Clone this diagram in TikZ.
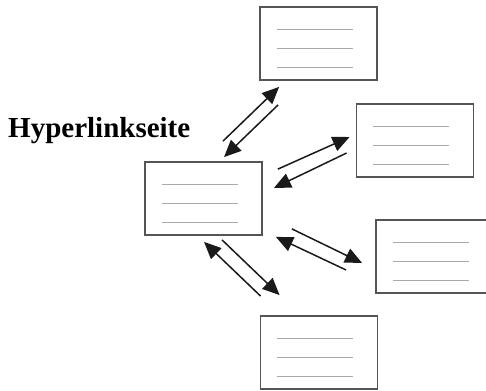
\documentclass[tikz,border=0pt]{standalone}
\usepackage{fontspec}
\setmainfont{Liberation Serif}
\usepackage{tikz}
\usetikzlibrary{arrows.meta}
\definecolor{myframe}{HTML}{555555}
\definecolor{myrule}{HTML}{AAAAAA}
\definecolor{myarrow}{HTML}{1A1A1A}

\begin{document}
\begin{tikzpicture}[x=1pt, y=1pt,
  page/.style={draw=myframe, line width=1.8pt, minimum width=117pt, minimum height=73pt,
    inner sep=0pt, fill=white,
    path picture={\foreach \d in {14,-5,-24}
      \draw[myrule, line width=1pt] ([shift={(-42pt,\d pt)}]path picture bounding box.center) -- ++(76pt,0);}},
  arr/.style={-{Triangle[length=17pt, width=15pt]}, line width=1.5pt, myarrow}
]
\clip (0,0) rectangle (486,-390);
\node[page] (main) at (203.5,-198.5) {};
\node[page] (top) at (318.5,-43.5) {};
\node[page] (right1) at (415,-140.5) {};
\node[page] (right2) at (434.5,-256.5) {};
\node[page] (bottom) at (319,-352.5) {};
\node[anchor=base west, inner sep=0pt, font=\fontsize{29}{30}\selectfont\bfseries] (title) at (8,-138) {Hyperlinkseite};
% links main <-> top
\draw[arr] ([shift={(19.5,20)}]main.north) -- ([shift={(20,-6)}]top.south west);
\draw[arr] ([shift={(19,-24)}]top.south west) -- ([shift={(20.5,4)}]main.north);
% links main <-> right1
\draw[arr] ([shift={(15,-8)}]main.north east) -- ([shift={(-6,3.5)}]right1.west);
\draw[arr] ([shift={(-9,-12.5)}]right1.west) -- ([shift={(11,10.5)}]main.east);
% links main <-> right2
\draw[arr] ([shift={(29,7)}]main.south east) -- ([shift={(-13,-6.5)}]right2.west);
\draw[arr] ([shift={(-29,-13.5)}]right2.west) -- ([shift={(13,-1)}]main.south east);
% links main <-> bottom
\draw[arr] ([shift={(18.5,-4)}]main.south) -- ([shift={(20,20)}]bottom.north west);
\draw[arr] ([shift={(1,19)}]bottom.north west) -- ([shift={(0.5,-6)}]main.south);
\end{tikzpicture}
\end{document}
